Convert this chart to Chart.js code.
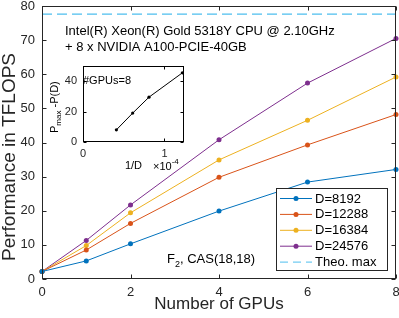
<!DOCTYPE html>
<html><head><meta charset="utf-8">
<script src="https://cdn.jsdelivr.net/npm/chart.js@4/dist/chart.umd.min.js"></script>
<style>
html,body{margin:0;padding:0;background:#fff;}
#wrap{position:relative;width:399px;height:318px;overflow:hidden;}
#main{position:absolute;left:0;top:0;}
#inset{position:absolute;left:45px;top:60px;}
</style></head><body>
<div id="wrap">
<canvas id="main" width="399" height="318"></canvas>
<canvas id="inset" width="145" height="115"></canvas>
</div>
<script>
// ---- data ----
const gpuCounts = [0, 1, 2, 4, 6, 8];
const seriesLabels = ['D=8192', 'D=12288', 'D=16384', 'D=24576'];
const perfD8192  = [2.2, 5.3, 10.3, 19.9, 28.4, 32.1];
const perfD12288 = [2.2, 8.5, 16.3, 29.8, 39.3, 48.2];
const perfD16384 = [2.2, 9.8, 19.4, 34.9, 46.5, 59.2];
const perfD24576 = [2.2, 11.3, 21.7, 40.8, 57.4, 70.5];
const theoMaxLabel = 'Theo. max';
const theoMax = 77.6;
const xTickValues = [0, 2, 4, 6, 8];
const yTickValues = [0, 10, 20, 30, 40, 50, 60, 70, 80];
const xTitle = 'Number of GPUs';
const yTitle = 'Performance in TFLOPS';
const headerLines = ['Intel(R) Xeon(R) Gold 5318Y CPU @ 2.10GHz', '+ 8 x NVIDIA A100-PCIE-40GB'];
// inset: 1/D (x 1e-4) vs Pmax - P(D) at 8 GPUs
const insetInvD = [0.41, 0.61, 0.81, 1.22];
const insetGap = [8.0, 19.0, 29.5, 45.5];
const insetXTicks = [0, 1];
const insetYTicks = [0, 20, 40];

const colors = ['#0072BD', '#D95319', '#EDB120', '#7E2F8E'];
const theoColor = '#4DBEEE';
const axisColor = '#262626';
const FONT = '"Liberation Sans", Arial, Helvetica, sans-serif';

const allSeries = [perfD8192, perfD12288, perfD16384, perfD24576];
const toXY = (xs, ys) => xs.map((x, i) => ({x: x, y: ys[i]}));

function fixX(h) {
  return s => { s.height = h; s.paddingLeft = 0; s.paddingRight = 0; };
}
function fixY(w) {
  return s => { s.width = w; s.paddingTop = 0; s.paddingBottom = 0; };
}

function boxTicks(len, color) {
  return {
    id: 'boxTicks',
    afterDatasetsDraw(chart) {
      const {ctx, chartArea: a, scales} = chart;
      ctx.save();
      ctx.strokeStyle = color;
      ctx.lineWidth = 1;
      const L = Math.round(a.left) + 0.5, R = Math.round(a.right) - 0.5;
      const T = Math.round(a.top) + 0.5, B = Math.round(a.bottom) - 0.5;
      ctx.strokeRect(L, T, R - L, B - T);
      ctx.beginPath();
      scales.x.ticks.forEach(t => {
        const px = Math.round(scales.x.getPixelForValue(t.value)) + 0.5;
        ctx.moveTo(px, B); ctx.lineTo(px, B - len);
        ctx.moveTo(px, T); ctx.lineTo(px, T + len);
      });
      scales.y.ticks.forEach(t => {
        const py = Math.round(scales.y.getPixelForValue(t.value)) + 0.5;
        ctx.moveTo(L, py); ctx.lineTo(L + len, py);
        ctx.moveTo(R, py); ctx.lineTo(R - len, py);
      });
      ctx.stroke();
      ctx.restore();
    }
  };
}

const annotations = {
  id: 'annotations',
  afterDraw(chart) {
    const ctx = chart.ctx;
    ctx.save();
    ctx.fillStyle = '#000';
    ctx.textBaseline = 'alphabetic';
    ctx.textAlign = 'left';
    ctx.font = '13px ' + FONT;
    ctx.fillText(headerLines[0], 65, 35);
    ctx.fillText(headerLines[1], 65, 51);
    // F_2, CAS(18,18)
    let x = 167;
    ctx.fillText('F', x, 263); x += ctx.measureText('F').width;
    ctx.font = '9px ' + FONT;
    ctx.fillText('2', x, 267); x += ctx.measureText('2').width;
    ctx.font = '13px ' + FONT;
    ctx.fillText(', CAS(18,18)', x, 263);
    // y title
    ctx.save();
    ctx.translate(10, 157);
    ctx.rotate(-Math.PI / 2);
    ctx.textAlign = 'center';
    ctx.textBaseline = 'middle';
    ctx.font = '19px ' + FONT;
    ctx.fillStyle = axisColor;
    ctx.fillText(yTitle, 0, 0);
    ctx.restore();
    // legend
    const lx = 276.5, ly = 188.5, lw = 111, lh = 82;
    ctx.fillStyle = '#fff';
    ctx.fillRect(lx, ly, lw, lh);
    ctx.strokeStyle = axisColor;
    ctx.lineWidth = 1;
    ctx.strokeRect(lx, ly, lw, lh);
    const labels = seriesLabels.concat([theoMaxLabel]);
    const cols = colors.concat([theoColor]);
    ctx.font = '13px ' + FONT;
    ctx.textBaseline = 'middle';
    labels.forEach((lab, i) => {
      const y = 198.5 + i * 15.9;
      ctx.strokeStyle = cols[i];
      ctx.lineWidth = 1;
      ctx.setLineDash(i === 4 ? [8, 5] : []);
      ctx.beginPath(); ctx.moveTo(280, y); ctx.lineTo(312, y); ctx.stroke();
      ctx.setLineDash([]);
      if (i < 4) {
        ctx.fillStyle = cols[i];
        ctx.beginPath(); ctx.arc(296, y, 2.5, 0, Math.PI * 2); ctx.fill();
      }
      ctx.fillStyle = '#000';
      ctx.fillText(lab, 315, y + 0.5);
    });
    ctx.restore();
  }
};

const mainDatasets = allSeries.map((s, i) => ({
  label: seriesLabels[i],
  data: toXY(gpuCounts, s),
  borderColor: colors[i],
  backgroundColor: colors[i],
  borderWidth: 1,
  pointRadius: 2.5,
  pointBorderWidth: 0,
  showLine: true,
  tension: 0,
  clip: false
}));
mainDatasets.unshift({
  label: theoMaxLabel,
  data: [{x: xTickValues[0], y: theoMax}, {x: xTickValues[xTickValues.length - 1], y: theoMax}],
  borderColor: theoColor,
  borderWidth: 1.2,
  borderDash: [10, 5],
  pointRadius: 0,
  showLine: true,
  clip: false
});

new Chart(document.getElementById('main'), {
  type: 'scatter',
  data: {datasets: mainDatasets},
  options: {
    responsive: false,
    animation: false,
    events: [],
    layout: {autoPadding: false, padding: {left: 0, right: 3, top: 6, bottom: 0}},
    plugins: {legend: {display: false}, tooltip: {enabled: false}},
    scales: {
      x: {
        type: 'linear', min: 0, max: 8,
        afterBuildTicks: s => { s.ticks = xTickValues.map(v => ({value: v})); },
        afterFit: fixX(39),
        grid: {display: false, drawTicks: false},
        border: {display: false},
        ticks: {padding: 6, color: axisColor, font: {family: FONT, size: 13}, maxRotation: 0},
        title: {display: true, text: xTitle, color: axisColor, font: {family: FONT, size: 17}, padding: {top: 0, bottom: 3}}
      },
      y: {
        type: 'linear', min: 0, max: 80,
        afterBuildTicks: s => { s.ticks = yTickValues.map(v => ({value: v})); },
        afterFit: fixY(42),
        grid: {display: false, drawTicks: false},
        border: {display: false},
        ticks: {padding: 7, color: axisColor, font: {family: FONT, size: 13}}
      }
    }
  },
  plugins: [boxTicks(4, axisColor), annotations]
});

const insetText = {
  id: 'insetText',
  afterDraw(chart) {
    const ctx = chart.ctx;
    ctx.save();
    ctx.fillStyle = '#000';
    ctx.font = '11px ' + FONT;
    ctx.textBaseline = 'middle';
    ctx.textAlign = 'left';
    ctx.fillText('#GPUs=8', 38, 21);
    // x10^-4
    let x = 108;
    ctx.fillText('\u00d710', x, 107); x += ctx.measureText('\u00d710').width;
    ctx.font = '8px ' + FONT;
    ctx.fillText('-4', x, 102);
    // y title P_max -P(D)
    ctx.save();
    ctx.translate(10, 47);
    ctx.rotate(-Math.PI / 2);
    ctx.textAlign = 'left';
    ctx.textBaseline = 'middle';
    ctx.font = '11px ' + FONT;
    let tx = -26;
    ctx.fillText('P', tx, 0); tx += ctx.measureText('P').width;
    ctx.font = '8px ' + FONT;
    ctx.fillText('max', tx, 4); tx += ctx.measureText('max').width;
    ctx.font = '11px ' + FONT;
    ctx.fillText(' -P(D)', tx, 0);
    ctx.restore();
    ctx.restore();
  }
};

new Chart(document.getElementById('inset'), {
  type: 'scatter',
  data: {datasets: [{
    data: toXY(insetInvD, insetGap),
    borderColor: '#000',
    backgroundColor: '#000',
    borderWidth: 1,
    pointRadius: 1.6,
    pointBorderWidth: 0,
    showLine: true,
    clip: false
  }]},
  options: {
    responsive: false,
    animation: false,
    events: [],
    layout: {autoPadding: false, padding: {left: 0, right: 6, top: 6, bottom: 0}},
    plugins: {legend: {display: false}, tooltip: {enabled: false}},
    scales: {
      x: {
        type: 'linear', min: 0, max: 1.24,
        afterBuildTicks: s => { s.ticks = insetXTicks.map(v => ({value: v})); },
        afterFit: fixX(33),
        grid: {display: false, drawTicks: false},
        border: {display: false},
        ticks: {padding: 5, color: axisColor, font: {family: FONT, size: 11}, maxRotation: 0},
        title: {display: true, text: '1/D', color: '#000', font: {family: FONT, size: 11}, padding: {top: 0, bottom: 2}}
      },
      y: {
        type: 'linear', min: 0, max: 50,
        afterBuildTicks: s => { s.ticks = insetYTicks.map(v => ({value: v})); },
        afterFit: fixY(38),
        grid: {display: false, drawTicks: false},
        border: {display: false},
        ticks: {padding: 6, color: axisColor, font: {family: FONT, size: 11}}
      }
    }
  },
  plugins: [boxTicks(3, '#000'), insetText]
});
</script>
</body></html>
